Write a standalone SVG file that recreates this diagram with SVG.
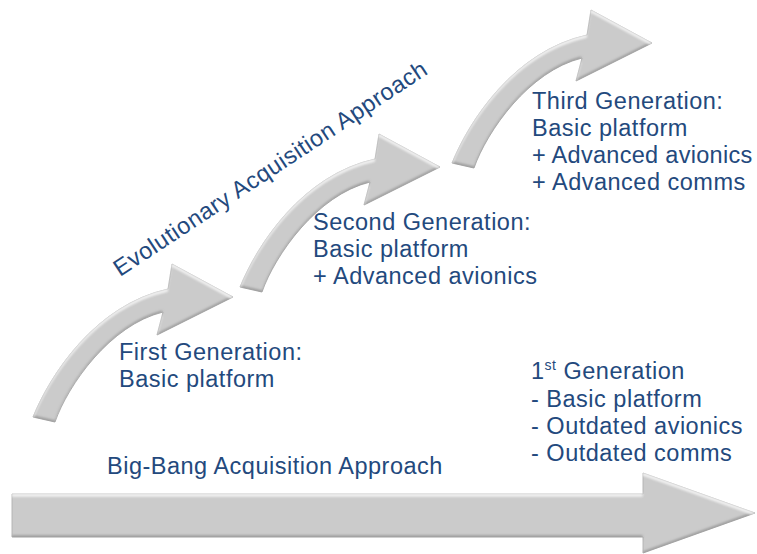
<svg xmlns="http://www.w3.org/2000/svg" width="757" height="554" viewBox="0 0 757 554">
  <style>
    .lbl { font-family: "Liberation Sans", Arial, sans-serif; font-size: 23.5px; letter-spacing: 0.5px; fill: #23497d; }
    .tight { letter-spacing: 0.3px; }
    .arrow { fill: #cbcbcb; stroke: #a9a9a9; stroke-width: 0.8; filter: url(#bevel); }
  </style>
  <defs>
    <!-- soft bevel: light rim on the upper edges, darker rim on the lower edges -->
    <filter id="bevel" x="-5%" y="-5%" width="110%" height="110%">
      <feOffset in="SourceAlpha" dx="0" dy="-2.5" result="up"/>
      <feComposite in="SourceAlpha" in2="up" operator="out" result="botEdge"/>
      <feGaussianBlur in="botEdge" stdDeviation="0.9" result="botBlur"/>
      <feFlood flood-color="#8c8c8c"/>
      <feComposite in2="botBlur" operator="in"/>
      <feComposite in2="SourceAlpha" operator="in" result="dark"/>
      <feOffset in="SourceAlpha" dx="0" dy="2.5" result="down"/>
      <feComposite in="SourceAlpha" in2="down" operator="out" result="topEdge"/>
      <feGaussianBlur in="topEdge" stdDeviation="0.9" result="topBlur"/>
      <feFlood flood-color="#f4f4f4"/>
      <feComposite in2="topBlur" operator="in"/>
      <feComposite in2="SourceAlpha" operator="in" result="light"/>
      <feMerge>
        <feMergeNode in="SourceGraphic"/>
        <feMergeNode in="dark"/>
        <feMergeNode in="light"/>
      </feMerge>
    </filter>
    <!-- curved step arrow, reused for each generation -->
    <path id="curved" d="M33,417 C50,375 95,305 168,289 L172,264 L233,297 L157,335 L163,312 C110,325 68,385 55,422 Z"/>
  </defs>

  <g id="bigbang-arrow">
    <path class="arrow" d="M12,494 L643,494 L643,473 L755,513 L643,553 L643,537 L12,537 Z"/>
  </g>

  <g id="gen1-arrow">
    <use href="#curved" class="arrow"/>
  </g>
  <g id="gen2-arrow">
    <use href="#curved" class="arrow" transform="translate(207,-130)"/>
  </g>
  <g id="gen3-arrow">
    <use href="#curved" class="arrow" transform="translate(419,-254)"/>
  </g>

  <g id="evolutionary-label">
    <text class="lbl" transform="translate(120,277) rotate(-33.4)">Evolutionary Acquisition Approach</text>
  </g>

  <g id="gen1-text">
    <text class="lbl" x="119" y="360">First Generation:</text>
    <text class="lbl" x="119" y="387">Basic platform</text>
  </g>

  <g id="gen2-text">
    <text class="lbl" x="313" y="230">Second Generation:</text>
    <text class="lbl" x="313" y="257">Basic platform</text>
    <text class="lbl" x="313" y="284">+ Advanced avionics</text>
  </g>

  <g id="gen3-text">
    <text class="lbl" x="532" y="109">Third Generation:</text>
    <text class="lbl" x="532" y="136">Basic platform</text>
    <text class="lbl tight" x="532" y="163">+ Advanced avionics</text>
    <text class="lbl" x="532" y="190">+ Advanced comms</text>
  </g>

  <g id="bigbang-text">
    <text class="lbl" x="531" y="379">1<tspan font-size="14" dy="-9">st</tspan><tspan dy="9"> Generation</tspan></text>
    <text class="lbl" x="531" y="407">- Basic platform</text>
    <text class="lbl" x="531" y="434">- Outdated avionics</text>
    <text class="lbl" x="531" y="461">- Outdated comms</text>
    <text class="lbl" x="107" y="474">Big-Bang Acquisition Approach</text>
  </g>
</svg>
